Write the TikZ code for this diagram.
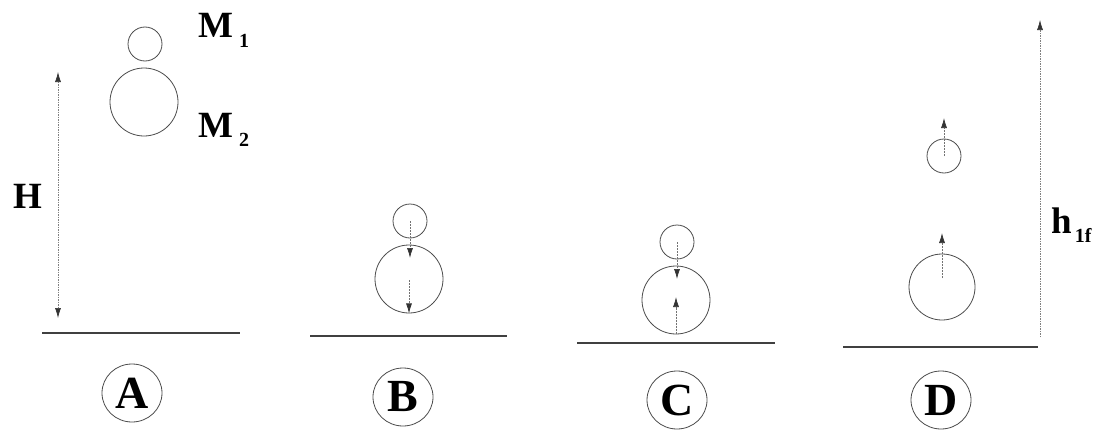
\documentclass[tikz,border=0pt]{standalone}
\usepackage{fontspec}
\setmainfont{Liberation Serif}
\usetikzlibrary{arrows.meta,shapes.geometric}
\begin{document}
\begin{tikzpicture}[x=1pt,y=-1pt,
  ball/.style={circle,draw=black!70,line width=0.8pt,inner sep=0pt},
  smallball/.style={ball,minimum size=34pt},
  bigball/.style={ball,minimum size=68pt},
  ground/.style={draw=black!75,line width=1.3pt},
  vel/.style={draw=black!55,line width=0.7pt,dash pattern=on 2pt off 1pt,-{Latex[length=10pt,width=6pt,color=black!80]}},
  dim/.style={draw=black!50,line width=0.6pt,dash pattern=on 1.5pt off 1pt},
  lab/.style={inner sep=0pt,font=\fontsize{37}{40}\selectfont\bfseries},
  tag/.style={ellipse,draw=black!70,line width=0.8pt,minimum width=60pt,minimum height=58pt,inner sep=0pt,font=\fontsize{46}{46}\selectfont\bfseries}]
\useasboundingbox (0,0) rectangle (1099,431);
\fill[white] (0,0) rectangle (1099,431);

% ---------- Panel A ----------
\node[smallball] (a1) at (145,44) {};
\node[bigball] (a2) at (144,102) {};
\node[lab,anchor=base west] (m1) at (198,37) {M\hspace{6pt}\raisebox{-10pt}{\fontsize{20}{20}\selectfont 1}};
\node[lab,anchor=base west] (m2) at (198,137) {M\hspace{6pt}\raisebox{-9pt}{\fontsize{20}{20}\selectfont 2}};
\coordinate (Htop) at (58,72);
\coordinate (Hbot) at (58,318);
\draw[dim,{Latex[length=10pt,width=6pt,color=black!80]}-{Latex[length=10pt,width=6pt,color=black!80]}] (Htop) -- (Hbot);
\node[lab,anchor=base west] (H) at (13,208) {H};
\coordinate (ga1) at (42,333); \coordinate (ga2) at (240,333);
\draw[ground] (ga1) -- (ga2);
\node[tag] (tA) at (132,393) {A};

% ---------- Panel B ----------
\node[smallball] (b1) at (410,221) {};
\node[bigball] (b2) at (409,279) {};
\coordinate (b1tip) at (410,258);
\draw[vel] (b1.center) -- (b1tip);
\draw[vel] ([yshift=-1pt]b2.center) -- (b2.south);
\coordinate (gb1) at (310,336); \coordinate (gb2) at (507,336);
\draw[ground] (gb1) -- (gb2);
\node[tag] (tB) at (403,397) {B};

% ---------- Panel C ----------
\node[smallball] (c1) at (677,242) {};
\node[bigball] (c2) at (676,300) {};
\coordinate (c1tip) at (677,279);
\coordinate (c2tip) at (676,297);
\draw[vel] (c1.center) -- (c1tip);
\draw[vel] (c2.south) -- (c2tip);
\coordinate (gc1) at (577,343); \coordinate (gc2) at (775,343);
\draw[ground] (gc1) -- (gc2);
\node[tag] (tC) at (677,400) {C};

% ---------- Panel D ----------
\node[smallball] (d1) at (944,156) {};
\node[bigball,minimum size=66pt] (d2) at (942,287) {};
\coordinate (d1tip) at (944,118);
\coordinate (d2tip) at (942,233);
\draw[vel] (d1.center) -- (d1tip);
\draw[vel] ([yshift=9pt]d2.center) -- (d2tip);
\coordinate (hbot) at (1040,337);
\coordinate (htop) at (1040,20);
\draw[dim,-{Latex[length=10pt,width=6pt,color=black!80]}] (hbot) -- (htop);
\node[lab,anchor=base west] (h1f) at (1051,233) {h\hspace{3pt}\raisebox{-9pt}{\fontsize{20}{20}\selectfont 1f}};
\coordinate (gd1) at (843,347); \coordinate (gd2) at (1038,347);
\draw[ground] (gd1) -- (gd2);
\node[tag] (tD) at (941,400) {D};
\end{tikzpicture}
\end{document}
